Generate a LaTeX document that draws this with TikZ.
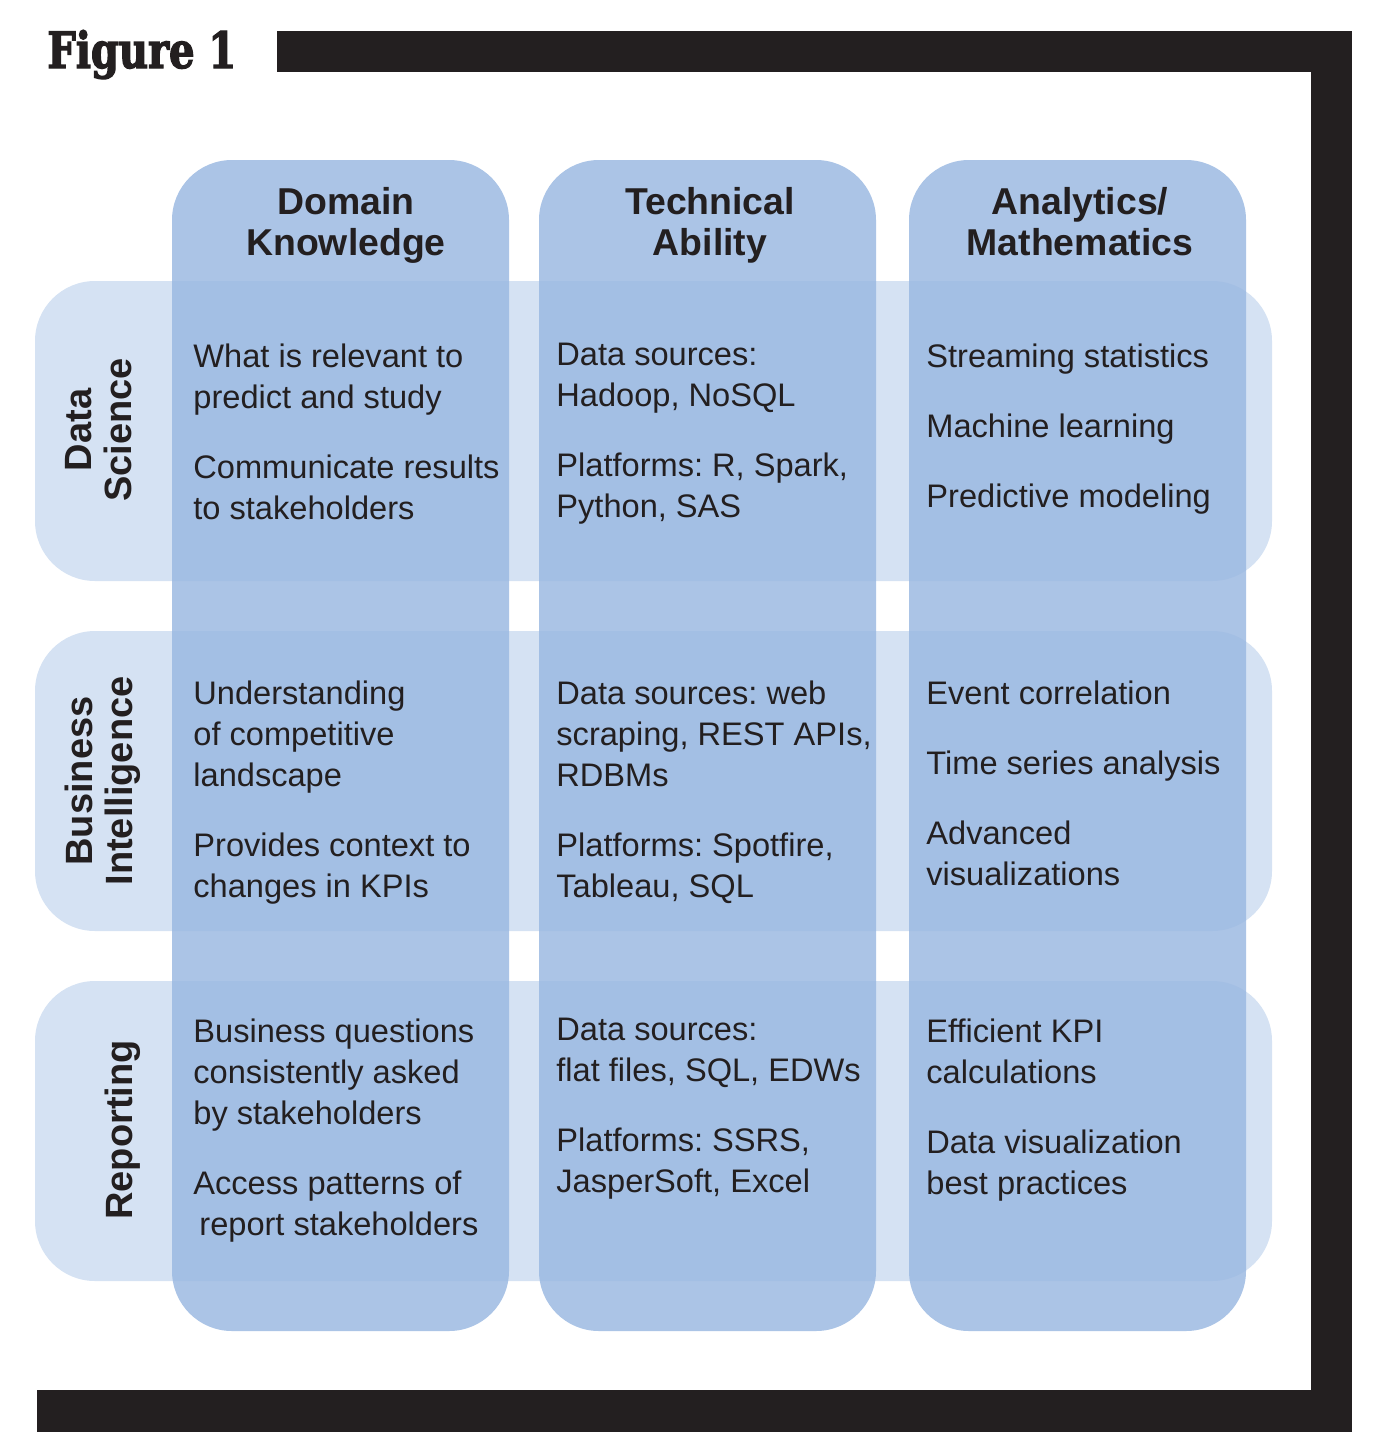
\documentclass[tikz,border=0pt]{standalone}
\usepackage{fontspec}
\setmainfont{Liberation Sans}
\newfontfamily\titlefont{DejaVu Serif}[FakeStretch=0.8, BoldFeatures={FakeBold=2.5}]
\definecolor{inkblack}{RGB}{35,31,32}
\definecolor{rowblue}{RGB}{213,226,243}
\definecolor{colblue}{RGB}{154,184,225}
\frenchspacing
\tikzset{
  rowbox/.style={fill=rowblue, rounded corners=30pt},
  colbox/.style={fill=colblue, fill opacity=0.83, rounded corners=30pt},
  head/.style={font=\bfseries\fontsize{18.7}{20.5}\selectfont, align=center, anchor=north, inner sep=0pt, text=inkblack},
  side/.style={font=\bfseries\fontsize{19}{20}\selectfont, align=center, rotate=90, anchor=north, inner sep=0pt, text=inkblack},
  cell/.style={font=\fontsize{16.3}{20.5}\selectfont, align=left, anchor=north west, inner sep=0pt, text=inkblack}
}
\begin{document}
\begin{tikzpicture}[x=0.5pt,y=-0.5pt]
        \useasboundingbox (0,0) rectangle (1379,1456);
        % frame
        \fill[inkblack] (277,31) rectangle (1352,72);
        \fill[inkblack] (1311,31) rectangle (1352,1432);
        \fill[inkblack] (37,1390) rectangle (1352,1432);
        \node[anchor=base west, inner sep=0pt, text=inkblack, font=\titlefont\bfseries\fontsize{25}{25}\selectfont] (title) at (47,68) {Figure 1};
        % rows, then columns on top
        \foreach \y in {281,631,981}{
            \fill[rowbox] (35,\y) rectangle ++(1237,300);
        }
        \foreach \x in {172,539,909}{
            \fill[colbox] (\x,160) rectangle ++(337,1171);
        }
        \node[head] (dom) at (346,187) {Domain\\Knowledge};
        \node[head] (tech) at (710,187) {Technical\\Ability};
        \node[head] (ana) at (1080,187) {Analytics/\\Mathematics};
        \node[side] (ds) at (65,430) {Data\\Science};
        \node[side] (bi) at (65,781) {Business\\Intelligence};
        \node[side] (rep) at (105,1130) {Reporting};
        % data science
        \node[cell] (ds-dom) at (193,343) {What is relevant to\\predict and study\\[14.5pt]Communicate results\\to stakeholders};
        \node[cell] (ds-tech) at (556,343) {Data sources:\\Hadoop, NoSQL\\[14.5pt]Platforms: R, Spark,\\Python, SAS};
        \node[cell] (ds-ana) at (926,343) {Streaming statistics\\[14.5pt]Machine learning\\[14.5pt]Predictive modeling};
        % business intelligence
        \node[cell] (bi-dom) at (193,680) {Understanding\\of competitive\\landscape\\[14.5pt]Provides context to\\changes in KPIs};
        \node[cell] (bi-tech) at (556,680) {Data sources: web\\scraping, REST APIs,\\RDBMs\\[14.5pt]Platforms: Spotfire,\\Tableau, SQL};
        \node[cell] (bi-ana) at (926,680) {Event correlation\\[14.5pt]Time series analysis\\[14.5pt]Advanced\\visualizations};
        % reporting
        \node[cell] (rep-dom) at (193,1018) {Business questions\\consistently asked\\by stakeholders\\[14.5pt]Access patterns of\\\hspace{3pt}report stakeholders};
        \node[cell] (rep-tech) at (556,1018) {Data sources:\\flat files, SQL, EDWs\\[14.5pt]Platforms: SSRS,\\JasperSoft, Excel};
        \node[cell] (rep-ana) at (926,1018) {Efficient KPI\\calculations\\[14.5pt]Data visualization\\best practices};
\end{tikzpicture}
\end{document}
